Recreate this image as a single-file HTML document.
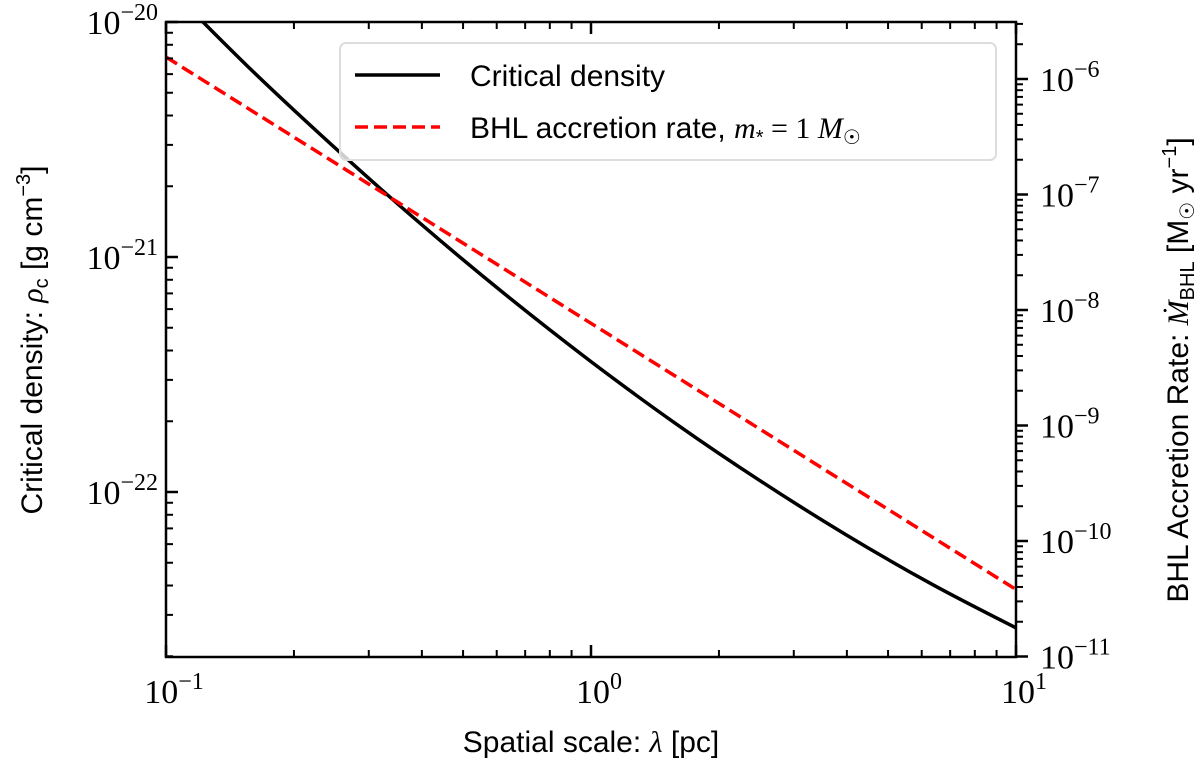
<!DOCTYPE html>
<html><head><meta charset="utf-8"><style>
body{margin:0;background:#fff;}
svg{display:block;}
.tk{font-family:"Liberation Serif",serif;font-size:34px;fill:#000;}
.sup{font-size:24px;}
.lab{font-family:"Liberation Sans",sans-serif;font-size:30px;fill:#000;}
</style></head><body>
<svg id="chart" width="1200" height="762" viewBox="0 0 1200 762">
<g id="marks"></g>
<g id="axes"></g>
<g id="legend">
<rect x="340" y="43" width="656" height="117" rx="6" fill="#fff" fill-opacity="0.8" stroke="#ddd" stroke-width="2"/>
<line x1="355" y1="75" x2="440" y2="75" stroke="#000" stroke-width="3.5"/>
<text x="470" y="86" class="lab">Critical density</text>
<line x1="355" y1="127" x2="440" y2="127" stroke="#f00" stroke-width="3.5" stroke-dasharray="13,6"/>
<text x="470" y="138" class="lab">BHL accretion rate, <tspan font-family="Liberation Serif,serif" font-style="italic">m</tspan><tspan font-size="20" dy="6">*</tspan><tspan dy="-6" font-family="Liberation Serif,serif"> = 1 </tspan><tspan font-family="Liberation Serif,serif" font-style="italic">M</tspan><tspan font-size="20" dy="6">☉</tspan></text>
</g>
<text x="591" y="752" text-anchor="middle" class="lab">Spatial scale: <tspan font-family="Liberation Serif,serif" font-style="italic">λ</tspan> [pc]</text>
<text transform="translate(42,340) rotate(-90)" text-anchor="middle" class="lab">Critical density: <tspan font-family="Liberation Serif,serif" font-style="italic">ρ</tspan><tspan font-size="20" dy="6">c</tspan><tspan dy="-6"> [g cm</tspan><tspan font-size="20" dy="-12">−3</tspan><tspan dy="12">]</tspan></text>
<text transform="translate(1188,370) rotate(-90)" text-anchor="middle" class="lab">BHL Accretion Rate: <tspan font-family="Liberation Serif,serif" font-style="italic">Ṁ</tspan><tspan font-size="20" dy="6">BHL</tspan><tspan dy="-6"> [M</tspan><tspan font-size="20" dy="6">☉</tspan><tspan dy="-6"> yr</tspan><tspan font-size="20" dy="-12">−1</tspan><tspan dy="12">]</tspan></text>
</svg>
<script>
const critLambda=[0.1,0.158,0.251,0.398,0.631,1,1.585,2.512,3.981,6.31,10];
const critRho=[1.44e-20,6.31e-21,2.89e-21,1.38e-21,6.89e-22,3.59e-22,1.95e-22,1.11e-22,6.58e-23,4.07e-23,2.64e-23];
const bhlLambda=[0.1,1,10];
const bhlRate=[1.55e-6,7.67e-9,3.8e-11];
const xTicks=[-1,0,1];
const leftTicks=[-20,-21,-22];
const rightTicks=[-6,-7,-8,-9,-10,-11];

const L=166,R=1016,T=22,B=657;
const xs=v=>L+(Math.log10(v)+1)*425;
const yl=v=>T+(-20-Math.log10(v))*235;
const yr=v=>79+(-6-Math.log10(v))*115.5;
const NS='http://www.w3.org/2000/svg';
const marks=document.getElementById('marks'),axes=document.getElementById('axes');
function mk(tag,attrs,parent){const e=document.createElementNS(NS,tag);for(const k in attrs)e.setAttribute(k,attrs[k]);parent.appendChild(e);return e;}
const cp=mk('clipPath',{id:'clip'},marks);mk('rect',{x:L,y:T,width:R-L,height:B-T},cp);
const g=mk('g',{'clip-path':'url(#clip)'},marks);
const pts=critLambda.map((v,i)=>[xs(v),yl(critRho[i])]);
let d='M'+pts[0][0].toFixed(1)+','+pts[0][1].toFixed(1);
for(let i=0;i<pts.length-1;i++){const p0=pts[Math.max(i-1,0)],p1=pts[i],p2=pts[i+1],p3=pts[Math.min(i+2,pts.length-1)];
 const c1=[p1[0]+(p2[0]-p0[0])/6,p1[1]+(p2[1]-p0[1])/6],c2=[p2[0]-(p3[0]-p1[0])/6,p2[1]-(p3[1]-p1[1])/6];
 d+='C'+c1.map(n=>n.toFixed(1)).join(',')+' '+c2.map(n=>n.toFixed(1)).join(',')+' '+p2.map(n=>n.toFixed(1)).join(',');}
const p1=mk('path',{d:d,fill:'none',stroke:'#000','stroke-width':3.5},g);


d=bhlLambda.map((v,i)=>(i?'L':'M')+xs(v).toFixed(1)+','+yr(bhlRate[i]).toFixed(1)).join('');
const p2=mk('path',{d:d,fill:'none',stroke:'#f00','stroke-width':3.5,'stroke-dasharray':'13,6'},g);


const fr=mk('rect',{x:L,y:T,width:R-L,height:B-T,fill:'none',stroke:'#000','stroke-width':2.5},axes);


function tick(x1,y1,x2,y2,w){mk('line',{x1,y1,x2,y2,stroke:'#000','stroke-width':w||2},axes);}
function lbl(x,y,e,anchor,name){const t=mk('text',{x,y,'text-anchor':anchor,class:'tk'},axes);t.innerHTML='10<tspan class="sup" dy="-14">'+(e<0?'−'+(-e):e)+'</tspan>';}
xTicks.forEach(e=>{const x=xs(Math.pow(10,e));tick(x,B,x,B-12,2.5);tick(x,T,x,T+12,2.5);lbl(x+8,B+46,e,'middle','x-tick-label');
 if(e<1)for(let m=2;m<10;m++){const xm=xs(m*Math.pow(10,e));tick(xm,B,xm,B-7);tick(xm,T,xm,T+7);}});
leftTicks.forEach(e=>{const y=yl(Math.pow(10,e));tick(L,y,L+12,y,2.5);lbl(L-8,y+12,e,'end','left-tick-label');});
for(let e=-23;e<=-21;e++)for(let m=2;m<10;m++){const y=yl(m*Math.pow(10,e));if(y>T&&y<B)tick(L,y,L+7,y);}
rightTicks.forEach(e=>{const y=yr(Math.pow(10,e));tick(R,y,R+12,y,2.5);lbl(R+24,y+12,e,'start','right-tick-label');});
for(let e=-12;e<=-6;e++)for(let m=2;m<10;m++){const y=yr(m*Math.pow(10,e));if(y>T&&y<B)tick(R,y,R+7,y);}
</script>
</body></html>
